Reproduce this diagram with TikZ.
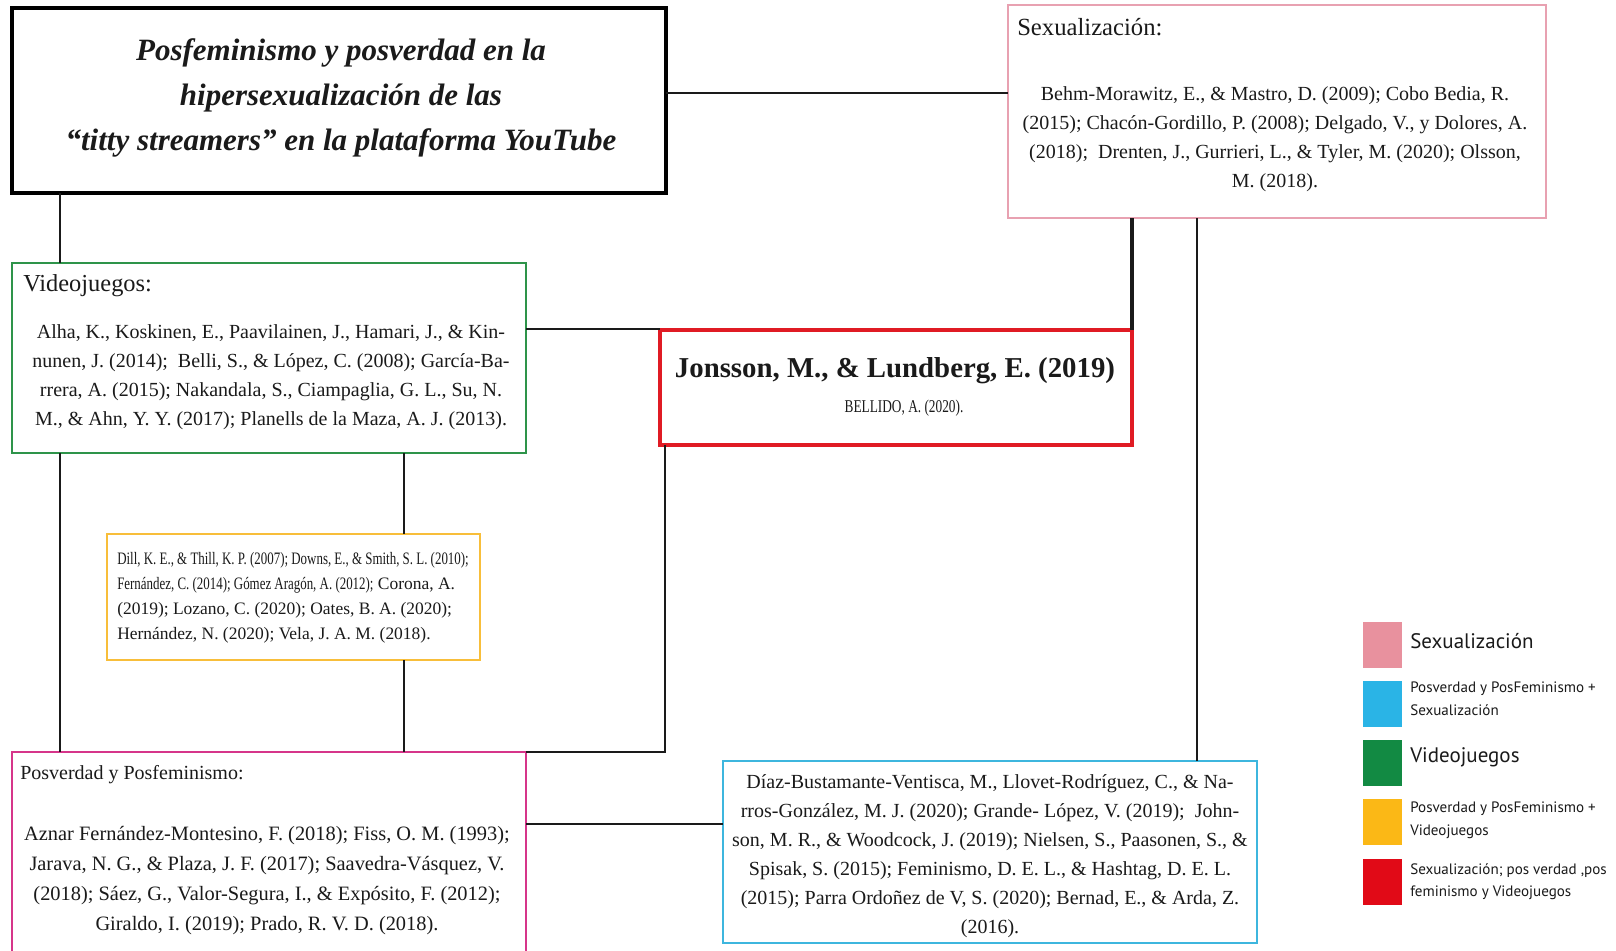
\documentclass[tikz,border=0pt]{standalone}
\usepackage{fontspec}
\setmainfont{Liberation Serif}
\newfontfamily\narrowfont[FakeStretch=0.74]{Liberation Serif}
\newfontfamily\legfont{PT Sans}
\definecolor{cpink}{HTML}{E8A1B1}
\definecolor{cgreen}{HTML}{2E944A}
\definecolor{cred}{HTML}{E01B24}
\definecolor{cyellow}{HTML}{F8BE3A}
\definecolor{cmag}{HTML}{D6358A}
\definecolor{cblue}{HTML}{3DB6DE}
\definecolor{lpink}{HTML}{E8919E}
\definecolor{lblue}{HTML}{2AB4E6}
\definecolor{lgreen}{HTML}{128A43}
\definecolor{lyellow}{HTML}{FBB816}
\definecolor{lred}{HTML}{E10A17}
\definecolor{ink}{HTML}{1A1A1A}
\begin{document}
\begin{tikzpicture}[x=0.75pt,y=-0.75pt,
  box/.style={draw, rectangle, inner sep=0pt, outer sep=0pt, fill=white},
  cbox/.style={box, line width=1.9pt},
  conn/.style={draw=ink, line width=1.6pt},
  body/.style={font=\fontsize{15}{21.75}\selectfont, align=center, inner sep=0pt, text=ink},
  head/.style={anchor=west, inner sep=0pt, text=ink},
  legsq/.style={inner sep=0pt, outer sep=0pt, minimum width=29.25pt, minimum height=34.5pt},
  legbig/.style={anchor=west, inner sep=0pt, text=ink, font=\legfont\fontsize{15.75}{18}\selectfont},
  legsmall/.style={anchor=west, inner sep=0pt, align=left, text=ink, font=\legfont\fontsize{11.3}{17}\selectfont},
]
\clip (0,0) rectangle (1616,950);
\fill[white] (0,0) rectangle (1616,950);

% named positions of connector lines
\coordinate (xA) at (60,0);
\coordinate (xB) at (404,0);
\coordinate (xC) at (665,0);
\coordinate (xD) at (1132,0);
\coordinate (xE) at (1197,0);
\coordinate (yA) at (0,93);
\coordinate (yB) at (0,329);
\coordinate (yC) at (0,824);

% boxes
\node[box, line width=3pt, minimum width={654*0.75pt}, minimum height={185*0.75pt}] (title) at (339,100.5) {};
\node[cbox, draw=cpink, minimum width={538*0.75pt}, minimum height={213*0.75pt}] (sex) at (1277,111.5) {};
\node[cbox, draw=cgreen, minimum width={514*0.75pt}, minimum height={190*0.75pt}] (video) at (269,358) {};
\node[cbox, draw=cred, line width=2.4pt, minimum width={472*0.75pt}, minimum height={115*0.75pt}] (jon) at (896,387.5) {};
\node[cbox, draw=cyellow, minimum width={373*0.75pt}, minimum height={126*0.75pt}] (yel) at (293.5,597) {};
\node[cbox, draw=cmag, minimum width={514*0.75pt}, minimum height={220*0.75pt}] (posv) at (269,862) {};
\node[cbox, draw=cblue, minimum width={534*0.75pt}, minimum height={182*0.75pt}] (blue) at (990,852) {};

% connectors
\draw[conn] (title.east |- yA) -- (sex.west |- yA);
\draw[conn] (title.south -| xA) -- (video.north -| xA);
\draw[conn] (video.east |- yB) -- (jon.west |- yB);
\draw[conn, line width=2.3pt] (sex.south -| xD) -- (jon.north -| xD);
\draw[conn] (sex.south -| xE) -- (blue.north -| xE);
\draw[conn] (jon.south -| xC) |- (posv.north east);
\draw[conn] (video.south -| xA) -- (posv.north -| xA);
\draw[conn] (video.south -| xB) -- (yel.north -| xB);
\draw[conn] (yel.south -| xB) -- (posv.north -| xB);
\draw[conn] (posv.east |- yC) -- (blue.west |- yC);

% texts
\node[font=\bfseries\itshape\fontsize{23.25}{33.75}\selectfont, align=center, inner sep=0pt, text=ink] (titletxt) at (341,98)
  {Posfeminismo y posverdad en la\\ hipersexualización de las\\ “titty streamers” en la plataforma YouTube};

\node[head, font=\fontsize{18.5}{22}\selectfont] (sexh) at (1017,27) {Sexualización:};
\node[body] (sexb) at (1275,139)
  {Behm-Morawitz, E., \& Mastro, D. (2009); Cobo Bedia, R.\\
   (2015); Chacón-Gordillo, P. (2008); Delgado, V., y Dolores, A.\\
   (2018);~ Drenten, J., Gurrieri, L., \& Tyler, M. (2020); Olsson,\\
   M. (2018).};

\node[head, font=\fontsize{18.3}{22}\selectfont] (videoh) at (23,286) {Videojuegos:};
\node[body] (videob) at (271,377)
  {Alha, K., Koskinen, E., Paavilainen, J., Hamari, J., \& Kin-\\
   nunen, J. (2014);~ Belli, S., \& López, C. (2008); García-Ba-\\
   rrera, A. (2015); Nakandala, S., Ciampaglia, G. L., Su, N.\\
   M., \& Ahn, Y. Y. (2017); Planells de la Maza, A. J. (2013).};

\node[font=\bfseries\fontsize{21.6}{24}\selectfont, inner sep=0pt, text=ink] (jont) at (895,371) {Jonsson, M., \& Lundberg, E. (2019)};
\node[font=\narrowfont\fontsize{13.5}{15}\selectfont, inner sep=0pt, text=ink] (bel) at (904,408) {BELLIDO, A. (2020).};

\node[anchor=west, align=left, inner sep=0pt, text=ink, font=\fontsize{13.1}{18.75}\selectfont] (yelt) at (117,597.5)
  {{\narrowfont Dill, K. E., \& Thill, K. P. (2007); Downs, E., \& Smith, S. L. (2010);}\\
   {\narrowfont Fernández, C. (2014); Gómez Aragón, A. (2012);} Corona, A.\\
   (2019); Lozano, C. (2020); Oates, B. A. (2020);\\
   Hernández, N. (2020); Vela, J. A. M. (2018).};

\node[head, font=\fontsize{15}{18}\selectfont] (posvh) at (20,775) {Posverdad y Posfeminismo:};
\node[body, font=\fontsize{15.3}{22.3}\selectfont] (posvb) at (267,880.5)
  {Aznar Fernández-Montesino, F. (2018); Fiss, O. M. (1993);\\
   Jarava, N. G., \& Plaza, J. F. (2017); Saavedra-Vásquez, V.\\
   (2018); Sáez, G., Valor-Segura, I., \& Expósito, F. (2012);\\
   Giraldo, I. (2019); Prado, R. V. D. (2018).};

\node[body] (blueb) at (990,856.5)
  {Díaz-Bustamante-Ventisca, M., Llovet-Rodríguez, C., \& Na-\\
   rros-González, M. J. (2020); Grande- López, V. (2019);~ John-\\
   son, M. R., \& Woodcock, J. (2019); Nielsen, S., Paasonen, S., \&\\
   Spisak, S. (2015); Feminismo, D. E. L., \& Hashtag, D. E. L.\\
   (2015); Parra Ordoñez de V, S. (2020); Bernad, E., \& Arda, Z.\\
   (2016).};

% legend
\node[legsq, fill=lpink] (lg1) at (1382.5,645) {};
\node[legsq, fill=lblue] (lg2) at (1382.5,704) {};
\node[legsq, fill=lgreen] (lg3) at (1382.5,763) {};
\node[legsq, fill=lyellow] (lg4) at (1382.5,822) {};
\node[legsq, fill=lred] (lg5) at (1382.5,881.5) {};
\node[legbig] (lt1) at (1410,641) {Sexualización};
\node[legsmall] (lt2) at (1410,698.5) {Posverdad y PosFeminismo +\\ Sexualización};
\node[legbig] (lt3) at (1410,757) {Videojuegos};
\node[legsmall] (lt4) at (1410,820) {Posverdad y PosFeminismo +\\ Videojuegos};
\node[legsmall] (lt5) at (1410,881.5) {Sexualización; pos verdad ,pos\\ feminismo y Videojuegos};
\end{tikzpicture}
\end{document}
